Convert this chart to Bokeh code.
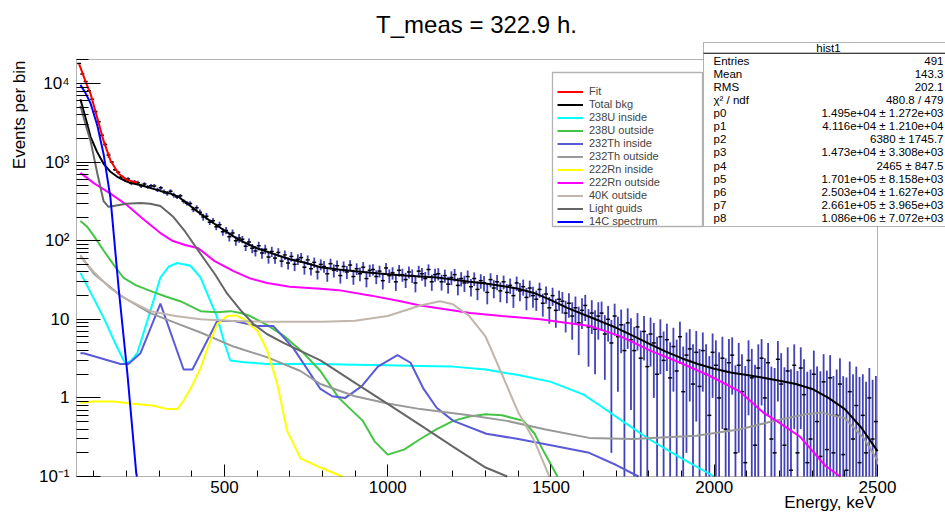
import math
import numpy as np
from bokeh.plotting import figure
from bokeh.models import (ColumnDataSource, Label, BoxAnnotation, Legend, LegendItem,
                          FixedTicker, Range1d)
from bokeh.embed import file_html
from bokeh.resources import INLINE

# ---------------- data ----------------
TITLE = "T_meas = 322.9 h."
X_LABEL = "Energy, keV"
Y_LABEL = "Events per bin"

X_MIN, X_MAX = 47, 2500
Y_MIN, Y_MAX = 0.1, 20200
X_TICKS = [500, 1000, 1500, 2000, 2500]
Y_TICKS = [0.1, 1, 10, 100, 1000, 10000]
Y_TICK_LABELS = ["10\u207b\u00b9", "1", "10", "10\u00b2", "10\u00b3", "10\u2074"]

BIN_START = 50
BIN_WIDTH = 10
HIST_VALUES = [
    18000, 13200, 10600, 8100, 6300, 4400, 3250, 2200, 1680, 1230,
    1000, 800, 745, 650, 600, 610, 540, 560, 545, 500,
    525, 485, 500, 498, 445, 470, 420, 400, 425, 380,
    360, 372, 318, 300, 298, 250, 262, 230, 200, 205,
    172, 180, 150, 160, 130, 135, 112, 125, 100, 108,
    104, 85, 96, 80, 74, 86, 70, 78, 62, 73,
    60, 71, 55, 66, 52, 63, 50, 58, 61, 46,
    57, 44, 53, 40, 50, 47, 38, 51, 42, 48,
    36, 47, 40, 49, 35, 44, 38, 46, 33, 42,
    43, 35, 41, 31, 45, 36, 39, 30, 42, 37,
    32, 40, 36, 29, 41, 38, 33, 43, 30, 37,
    38, 30, 36, 28, 34, 37, 27, 33, 29, 35,
    26, 33, 24, 31, 29, 22, 32, 25, 30, 23,
    30, 22, 27, 20, 29, 23, 26, 19, 25, 20,
    18, 24, 16, 21, 14, 20, 13, 18, 17, 12,
    16, 11, 14, 9, 13, 15, 8, 12, 7.5, 11,
    12, 6.5, 10, 5, 11, 6, 8.5, 4, 9, 5.5,
    4, 8, 3.2, 7, 2.5, 6.5, 5, 2, 6, 3,
    5.5, 1.8, 4.5, 2.2, 6, 1.2, 3.5, 4.2, 1.5, 3.8,
    1.4, 4.0, 2.0, 0.6, 3.8, 2.6, 1.0, 3.2, 0.4, 2.8,
    3.5, 0.2, 2.6, 1.2, 0.15, 3.0, 1.8, 0.25, 2.4, 3.2,
    1.0, 2.8, 0.3, 0.2, 3.1, 1.5, 0.25, 2.2, 0.12, 2.6,
    0.2, 2.4, 1.1, 0.15, 0.3, 2.0, 0.5, 0.18, 1.6, 0.22,
    1.8, 0.2, 0.6, 1.5, 0.19, 0.12, 1.2, 0.3, 0.8, 0.15,
    0.6, 0.2, 1.0, 0.3, 0.5,
]
# error of the bins, one value per 100 keV block starting at 50 keV
ERR_BLOCKS = [90, 32, 28, 20, 14, 11, 9, 8, 7.5, 7, 7, 6.8, 6.5, 6, 5.2,
              5.5, 4.8, 4.0, 3.3, 2.8, 2.4, 2.2, 2.0, 1.7, 1.4]

FIT_E = [55, 59, 75, 90, 111, 130, 151, 176, 203, 233]
FIT_V = [17500, 16000, 10500, 7400, 3600, 1860, 1050, 710, 590, 550]

TOTAL_E = [59, 75, 90, 110, 130, 150, 172, 195, 212, 250, 304, 335, 360, 387, 420, 457, 500, 540, 600, 650,
           700, 750, 794, 850, 900, 950, 1000, 1050, 1100, 1150, 1200, 1250, 1300, 1350, 1400, 1450, 1500,
           1550, 1600, 1650, 1700, 1750, 1800, 1850, 1900, 1950, 2000, 2050, 2100, 2150, 2200, 2250, 2300,
           2350, 2400, 2450, 2500]
TOTAL_V = [6300, 3600, 2100, 1350, 950, 760, 650, 580, 545, 500, 430, 397, 360, 295, 230, 178, 135, 105, 80, 68,
           58, 52, 46, 43, 41, 39, 37.5, 36, 35, 34, 32, 30, 28.5, 26.5, 24.5, 21.5, 17.5,
           14, 11.5, 9.5, 7.8, 6.2, 4.9, 3.9, 3.2, 2.7, 2.35, 2.1, 1.95, 1.8, 1.65, 1.5, 1.3,
           1.0, 0.72, 0.42, 0.21]

U238_IN_E = [59, 90, 130, 165, 197, 215, 233, 273, 304, 330, 356, 396, 427, 450, 478, 500, 518, 560, 631, 794,
             900, 1000, 1100, 1200, 1300, 1400, 1500, 1600, 1650, 1718, 1800, 1900, 2000]
U238_IN_V = [39, 22, 10.5, 5, 2.7, 3.0, 3.7, 12.7, 34, 47, 52, 48, 34, 20, 10.5, 5, 3.0, 2.85, 2.7, 2.7,
             2.65, 2.6, 2.55, 2.5, 2.3, 1.95, 1.6, 1.1, 0.8, 0.51, 0.3, 0.17, 0.1]

U238_OUT_E = [59, 80, 100, 130, 160, 190, 230, 273, 320, 365, 427, 478, 518, 550, 579, 630, 681, 740, 794, 850,
              924, 960, 1000, 1050, 1100, 1150, 1201, 1250, 1300, 1350, 1416, 1450, 1480, 1520]
U238_OUT_V = [178, 150, 115, 75, 50, 34, 27, 23, 19.5, 17, 12.7, 12.3, 12.7, 12, 11, 8.5, 6.2, 3.8, 2.2, 1.0,
              0.51, 0.28, 0.19, 0.22, 0.3, 0.4, 0.51, 0.58, 0.62, 0.6, 0.51, 0.35, 0.2, 0.1]

TH232_IN_E = [59, 69, 182, 206, 243, 304, 375, 402, 478, 530, 601, 650, 711, 794, 830, 870, 920, 970, 1030,
              1070, 1110, 1150, 1201, 1302, 1400, 1500, 1617, 1700, 1768]
TH232_IN_V = [3.7, 3.7, 2.7, 2.7, 3.7, 15.8, 2.3, 2.3, 9.5, 9.5, 8.2, 8.2, 4.3, 1.3, 1.05, 1.0, 1.4, 2.5, 3.5,
              2.8, 1.3, 0.75, 0.51, 0.35, 0.3, 0.25, 0.2, 0.14, 0.1]

TH232_OUT_E = [59, 100, 182, 273, 350, 427, 528, 630, 733, 794, 900, 1000, 1100, 1250, 1365, 1480, 1617, 1750,
               1945, 2080, 2184, 2280, 2330, 2400, 2460, 2500]
TH232_OUT_V = [65, 38, 20, 12, 9, 6.8, 4.5, 3.3, 2.2, 1.5, 1.05, 0.85, 0.72, 0.6, 0.51, 0.4, 0.31, 0.3,
               0.33, 0.4, 0.51, 0.62, 0.65, 0.55, 0.3, 0.16]

RN222_IN_E = [59, 100, 160, 221, 280, 326, 356, 375, 400, 427, 450, 478, 509, 535, 558, 601, 631, 662, 692,
              733, 794, 861]
RN222_IN_V = [0.87, 0.9, 0.9, 0.84, 0.8, 0.72, 0.72, 0.92, 1.4, 2.4, 4.5, 8.7, 11, 11.2, 10.1, 7.1, 4.0, 1.5,
              0.38, 0.17, 0.13, 0.1]

RN222_OUT_E = [59, 100, 150, 203, 250, 304, 340, 380, 420, 470, 528, 580, 631, 700, 794, 850, 950, 1039, 1100,
               1253, 1350, 1467, 1550, 1620, 1712, 1804, 1896, 1987, 2079, 2150, 2200, 2263, 2340, 2386]
RN222_OUT_V = [730, 540, 400, 280, 190, 125, 100, 88, 80, 55, 41, 33, 29, 26, 24.5, 23.5, 20, 17, 15,
               12, 11, 10, 9, 8.2, 6.1, 4.0, 2.8, 1.9, 1.2, 0.65, 0.48, 0.32, 0.137, 0.1]

K40_OUT_E = [59, 100, 150, 200, 273, 350, 427, 528, 650, 800, 900, 1000, 1100, 1160, 1200, 1250, 1300, 1350,
             1400, 1450, 1495]
K40_OUT_V = [63, 40, 25, 18, 12.7, 11, 10, 9.5, 9.3, 9.3, 9.6, 11, 15, 17, 15.5, 11, 6, 2.0,
             0.65, 0.28, 0.1]

LIGHT_E = [59, 75, 90, 111, 130, 145, 160, 200, 243, 273, 304, 344, 380, 427, 470, 509, 550, 589, 630, 681,
           794, 900, 1000, 1100, 1200, 1300, 1366]
LIGHT_V = [5200, 3000, 1860, 710, 318, 270, 277, 295, 302, 295, 277, 200, 130, 68, 38, 21, 13, 8.7, 6.5, 5.0,
           3.0, 1.55, 0.84, 0.45, 0.24, 0.13, 0.1]

C14_E = [59, 75, 90, 111, 130, 151, 176, 203, 230, 232]
C14_V = [9600, 7500, 5600, 2900, 1260, 350, 25, 2.0, 0.11, 0.1]

LEGEND_NAMES = ["Fit", "Total bkg", "238U inside", "238U outside", "232Th inside", "232Th outside",
                "222Rn inside", "222Rn outside", "40K outside", "Light guids", "14C spectrum"]
CURVE_DATA = [(FIT_E, FIT_V), (TOTAL_E, TOTAL_V), (U238_IN_E, U238_IN_V), (U238_OUT_E, U238_OUT_V),
              (TH232_IN_E, TH232_IN_V), (TH232_OUT_E, TH232_OUT_V), (RN222_IN_E, RN222_IN_V),
              (RN222_OUT_E, RN222_OUT_V), (K40_OUT_E, K40_OUT_V), (LIGHT_E, LIGHT_V), (C14_E, C14_V)]

STATS_NAME = "hist1"
STATS_KEYS = ["Entries", "Mean", "RMS", "\u03c7\u00b2 / ndf", "p0", "p1", "p2", "p3", "p4", "p5", "p6", "p7", "p8"]
STATS_VALUES = ["491", "143.3", "202.1", "480.8 / 479",
                "1.495e+04 \u00b1 1.272e+03", "4.116e+04 \u00b1 1.210e+04", "6380 \u00b1 1745.7",
                "1.473e+04 \u00b1 3.308e+03", "2465 \u00b1 847.5", "1.701e+05 \u00b1 8.158e+03",
                "2.503e+04 \u00b1 1.627e+03", "2.661e+05 \u00b1 3.965e+03", "1.086e+06 \u00b1 7.072e+03"]

# ---------------- layout / styles ----------------
CURVE_COLORS = ["#ff0000", "#000000", "#00ffff", "#44c444", "#5a5ad8", "#999999",
                "#ffff00", "#ff00ff", "#c0b6ab", "#666666", "#0000ff"]
FONT = "Liberation Sans"
W, H = 945, 513
# pixel position of the data frame inside the canvas
F_LEFT, F_RIGHT, F_TOP, F_BOTTOM = 76, 877, 59, 476
BASE_SHIFT = 0.33  # em; correction between requested and drawn baseline

px_per_x = (F_RIGHT - F_LEFT) / (X_MAX - X_MIN)
px_per_dec = (F_BOTTOM - F_TOP) / (math.log10(Y_MAX) - math.log10(Y_MIN))
x0 = X_MIN - F_LEFT / px_per_x
x1 = X_MAX + (W - F_RIGHT) / px_per_x
y0 = 10 ** (math.log10(Y_MIN) - (H - F_BOTTOM) / px_per_dec)
y1 = 10 ** (math.log10(Y_MAX) + F_TOP / px_per_dec)


def sx(px):
    return px


def sy(py):
    return H - py


def text_label(px, py, text, size, align, angle=0.0):
    if angle == 0.0:
        py = py - BASE_SHIFT * size
    else:
        px = px - BASE_SHIFT * size
    return Label(x=sx(px), y=sy(py), x_units="screen", y_units="screen", text=text, text_align=align,
                 text_baseline="alphabetic", angle=angle, text_font=FONT, text_font_size=f"{size}px",
                 text_color="black")


p = figure(width=W, height=H, y_axis_type="log",
           x_range=Range1d(x0, x1), y_range=Range1d(y0, y1),
           output_backend="svg", toolbar_location=None)
p.min_border_left = p.min_border_right = p.min_border_top = p.min_border_bottom = 0
p.title.visible = False
p.xgrid.visible = False
p.ygrid.visible = False
p.outline_line_color = None
p.background_fill_color = "white"
p.border_fill_color = "white"

x_minor = [v for v in range(100, X_MAX + 1, 100) if v % 500 != 0]
y_minor = [m * 10.0 ** k for k in range(-1, 5) for m in range(2, 10) if m * 10.0 ** k < Y_MAX]
p.xaxis.ticker = FixedTicker(ticks=X_TICKS, minor_ticks=x_minor)
p.yaxis.ticker = FixedTicker(ticks=Y_TICKS, minor_ticks=y_minor)
p.yaxis.major_label_overrides = {t: lab for t, lab in zip(Y_TICKS, Y_TICK_LABELS)}
p.xaxis.fixed_location = Y_MIN
p.yaxis.fixed_location = X_MIN

for ax in (p.xaxis[0], p.yaxis[0]):
    ax.axis_line_color = None
    ax.major_tick_line_color = "black"
    ax.minor_tick_line_color = "black"
    ax.major_tick_out = 0
    ax.minor_tick_out = 0
    ax.major_label_text_font = FONT
    ax.major_label_text_font_size = "17px"
    ax.major_label_text_color = "black"
p.xaxis.major_tick_in = 12
p.xaxis.minor_tick_in = 6
p.yaxis.major_tick_in = 24
p.yaxis.minor_tick_in = 12
p.xaxis.major_label_standoff = 4
p.yaxis.major_label_standoff = 7

# histogram with error bars
vals = np.array(HIST_VALUES, dtype=float)
centers = BIN_START + BIN_WIDTH * (np.arange(len(vals)) + 0.5)
errs = np.array([ERR_BLOCKS[int((c - BIN_START) // 100)] for c in centers])
src = ColumnDataSource(dict(x=centers, v=vals, lo=np.maximum(vals - errs, Y_MIN), hi=vals + errs))
p.segment(x0="x", y0="lo", x1="x", y1="hi", source=src, line_color="#4242b6", line_width=1.8)
p.scatter(x="x", y="v", source=src, marker="dash", size=4, line_color="black", line_width=1.5)

# curves (fit drawn last)
renderers = {}
for i in [1, 2, 3, 4, 5, 6, 7, 8, 9, 10, 0]:
    e, v = CURVE_DATA[i]
    renderers[i] = p.line(e, v, line_color=CURVE_COLORS[i], line_width=2)

# frame box of the data area
p.add_layout(BoxAnnotation(left=X_MIN, right=X_MAX, bottom=Y_MIN, top=Y_MAX, fill_alpha=0,
                           line_color="black", line_width=1))


def sbox(l, r, t, b, **kw):
    return BoxAnnotation(left=sx(l), right=sx(r), top=sy(t), bottom=sy(b), left_units="screen",
                         right_units="screen", top_units="screen", bottom_units="screen", **kw)


# legend
p.add_layout(sbox(552, 702, 72, 226, fill_color="white", fill_alpha=1, line_color="black", line_width=1.3))
legend = Legend(items=[LegendItem(label=LEGEND_NAMES[i], renderers=[renderers[i]]) for i in range(11)],
                location=(sx(557), sy(227.5)), padding=0, margin=0, spacing=0, glyph_width=26,
                glyph_height=13, label_height=13, label_standoff=6, border_line_alpha=0,
                background_fill_alpha=0, label_text_font=FONT, label_text_font_size="11px")
p.add_layout(legend)

# stats box
p.add_layout(sbox(703, 960, 42, 226, fill_color="white", fill_alpha=1, line_color="black", line_width=1))
p.add_layout(sbox(703, 960, 52.2, 53.2, fill_color="black", fill_alpha=1, line_alpha=0))
p.add_layout(text_label(828, 51, STATS_NAME, 11.5, "center"))
for i, (k, v) in enumerate(zip(STATS_KEYS, STATS_VALUES)):
    yb = 64 + 13.1 * i
    p.add_layout(text_label(713, yb, k, 11.5, "left"))
    p.add_layout(text_label(943, yb, v, 11.5, "right"))

# titles
p.add_layout(text_label(476, 32, TITLE, 24, "center"))
p.add_layout(text_label(875, 508, X_LABEL, 17, "right"))
p.add_layout(text_label(24.5, 60, Y_LABEL, 17, "right", angle=math.pi / 2))

open("out.html", "w").write(file_html(p, INLINE))
